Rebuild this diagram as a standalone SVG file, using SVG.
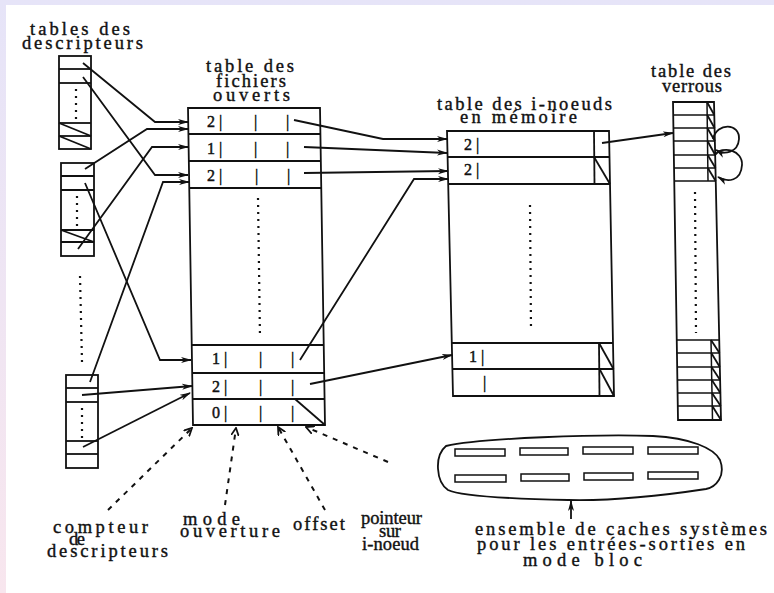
<svg xmlns="http://www.w3.org/2000/svg" width="774" height="593" viewBox="0 0 774 593">
<defs>
<linearGradient id="bg" x1="0" y1="0" x2="0" y2="1">
<stop offset="0" stop-color="#e6e4f8"/>
<stop offset="1" stop-color="#f8e6ee"/>
</linearGradient>
<marker id="ah" markerWidth="11" markerHeight="8" refX="10" refY="4" orient="auto" markerUnits="userSpaceOnUse">
<path d="M0,1 L11,4 L0,7 L3,4 z" fill="#111"/>
</marker>
<marker id="ao" markerWidth="9" markerHeight="9" refX="8" refY="4.5" orient="auto" markerUnits="userSpaceOnUse">
<path d="M0,0.5 L8,4.5 L0,8.5" fill="none" stroke="#111" stroke-width="1.8"/>
</marker>
</defs>
<style>
.ln{stroke:#111;stroke-width:1.8;fill:none}
.thin{stroke:#111;stroke-width:1.5;fill:none}
.arr{stroke:#111;stroke-width:1.8;fill:none;marker-end:url(#ah)}
.dash{stroke:#111;stroke-width:2;fill:none;stroke-dasharray:5 6;marker-end:url(#ao)}
.dots{stroke:#111;stroke-width:2.2;fill:none;stroke-dasharray:2 5}
.lbl{font-family:"Liberation Serif","DejaVu Serif",serif;font-size:18.5px;fill:#111;stroke:#111;stroke-width:0.4}
.num{font-family:"Liberation Serif","DejaVu Serif",serif;font-size:16px;fill:#111;stroke:#111;stroke-width:0.45}
</style>
<rect x="0" y="0" width="774" height="593" fill="url(#bg)"/>
<rect x="6" y="5" width="768" height="588" fill="#ffffff"/>

<g id="title-descripteurs">
<text class="lbl" x="30" y="35" textLength="100" lengthAdjust="spacing">tables des</text>
<text class="lbl" x="22" y="49" textLength="121" lengthAdjust="spacing">descripteurs</text>
</g>

<g id="desc-table-1">
<rect class="ln" x="59" y="56" width="32" height="93"/>
<line class="ln" x1="59" y1="69" x2="91" y2="69"/>
<line class="ln" x1="59" y1="83" x2="91" y2="83"/>
<line class="ln" x1="59" y1="123" x2="91" y2="123"/>
<line class="ln" x1="59" y1="136" x2="91" y2="136"/>
<line class="ln" x1="59" y1="123" x2="91" y2="136"/>
<line class="ln" x1="59" y1="136" x2="91" y2="149"/>
<line class="dots" x1="76" y1="89" x2="76" y2="121"/>
</g>

<g id="desc-table-2">
<rect class="ln" x="61" y="163" width="33" height="93"/>
<line class="ln" x1="61" y1="176" x2="94" y2="176"/>
<line class="ln" x1="61" y1="190" x2="94" y2="190"/>
<line class="ln" x1="61" y1="230" x2="94" y2="230"/>
<line class="ln" x1="61" y1="242" x2="94" y2="242"/>
<line class="ln" x1="61" y1="230" x2="94" y2="242"/>
<line class="dots" x1="77" y1="196" x2="77" y2="228"/>
</g>

<line class="dots" x1="80" y1="276" x2="82" y2="362"/>

<g id="desc-table-3">
<rect class="ln" x="66" y="375" width="32" height="93"/>
<line class="ln" x1="66" y1="388" x2="98" y2="388"/>
<line class="ln" x1="66" y1="402" x2="98" y2="402"/>
<line class="ln" x1="66" y1="441" x2="98" y2="441"/>
<line class="ln" x1="66" y1="454" x2="98" y2="454"/>
<line class="dots" x1="82" y1="408" x2="82" y2="438"/>
</g>

<g id="title-fichiers">
<text class="lbl" x="206" y="72" textLength="88" lengthAdjust="spacing">table des</text>
<text class="lbl" x="216" y="87" textLength="70" lengthAdjust="spacing">fichiers</text>
<text class="lbl" x="213" y="101" textLength="77" lengthAdjust="spacing">ouverts</text>
</g>

<g id="file-table">
<path class="ln" d="M188,108 L320,108 L325,425 L193,425 Z"/>
<line class="ln" x1="188.4" y1="134" x2="320.4" y2="134"/>
<line class="ln" x1="188.8" y1="161" x2="320.8" y2="161"/>
<line class="ln" x1="189.3" y1="188" x2="321.3" y2="188"/>
<line class="ln" x1="191.7" y1="345" x2="323.7" y2="345"/>
<line class="ln" x1="192.2" y1="373" x2="324.2" y2="373"/>
<line class="ln" x1="192.6" y1="399" x2="324.6" y2="399"/>
<line class="ln" x1="295" y1="399" x2="325" y2="425"/>
<line class="dots" x1="258" y1="198" x2="260" y2="338"/>
<text class="num" x="207" y="127">2 |</text><text class="num" x="254" y="127">|</text><text class="num" x="286" y="127">|</text>
<text class="num" x="207" y="154">1 |</text><text class="num" x="254" y="154">|</text><text class="num" x="286" y="154">|</text>
<text class="num" x="207" y="181">2 |</text><text class="num" x="255" y="181">|</text><text class="num" x="287" y="181">|</text>
<text class="num" x="212" y="364">1 |</text><text class="num" x="259" y="364">|</text><text class="num" x="291" y="364">|</text>
<text class="num" x="212" y="392">2 |</text><text class="num" x="259" y="392">|</text><text class="num" x="291" y="392">|</text>
<text class="num" x="212" y="418">0 |</text><text class="num" x="259" y="418">|</text><text class="num" x="291" y="418">|</text>
</g>

<g id="title-inoeuds">
<text class="lbl" x="437" y="110" textLength="175" lengthAdjust="spacing">table des i-noeuds</text>
<text class="lbl" x="460" y="123" textLength="117" lengthAdjust="spacing">en mémoire</text>
</g>

<g id="inode-table">
<path class="ln" d="M447,131 L609,131 L614,396 L453,396 Z"/>
<line class="ln" x1="447.5" y1="157" x2="609.5" y2="157"/>
<line class="ln" x1="448" y1="184" x2="610" y2="184"/>
<line class="ln" x1="594" y1="131" x2="594.5" y2="184"/>
<line class="ln" x1="594" y1="157" x2="610" y2="184"/>
<line class="ln" x1="452" y1="343" x2="613" y2="343"/>
<line class="ln" x1="452.5" y1="369" x2="613.5" y2="369"/>
<line class="ln" x1="599" y1="343" x2="599.5" y2="396"/>
<line class="ln" x1="599" y1="343" x2="613.5" y2="369"/>
<line class="ln" x1="599.5" y1="369" x2="614" y2="396"/>
<line class="dots" x1="530" y1="205" x2="531" y2="330"/>
<text class="num" x="464" y="150">2 |</text>
<text class="num" x="464" y="175">2 |</text>
<text class="num" x="469" y="362">1 |</text>
<text class="num" x="483" y="388">|</text>
</g>

<g id="title-verrous">
<text class="lbl" x="651" y="77" textLength="80" lengthAdjust="spacing">table des</text>
<text class="lbl" x="662" y="92" textLength="60" lengthAdjust="spacing">verrous</text>
</g>

<g id="locks-table">
<path class="ln" d="M673,102 L714,102 L721,420 L678,420 Z"/>
<line class="thin" x1="673.2" y1="115" x2="714.3" y2="115"/>
<line class="thin" x1="673.4" y1="128" x2="714.6" y2="128"/>
<line class="thin" x1="673.6" y1="141" x2="714.9" y2="141"/>
<line class="thin" x1="673.8" y1="155" x2="715.2" y2="155"/>
<line class="thin" x1="674" y1="168" x2="715.5" y2="168"/>
<line class="thin" x1="674.2" y1="181" x2="715.7" y2="181"/>
<line class="thin" x1="707" y1="102" x2="708" y2="181"/>
<line class="ln" x1="707" y1="102" x2="714.3" y2="115"/>
<line class="ln" x1="707.2" y1="115" x2="714.6" y2="128"/>
<line class="ln" x1="707.3" y1="128" x2="714.9" y2="141"/>
<line class="ln" x1="707.5" y1="141" x2="715.2" y2="155"/>
<line class="ln" x1="707.7" y1="155" x2="715.5" y2="168"/>
<line class="ln" x1="707.8" y1="168" x2="715.7" y2="181"/>
<line class="dots" x1="695" y1="192" x2="696" y2="333"/>
<line class="thin" x1="676.7" y1="340" x2="719.2" y2="340"/>
<line class="thin" x1="676.9" y1="353" x2="719.5" y2="353"/>
<line class="thin" x1="677.1" y1="367" x2="719.8" y2="367"/>
<line class="thin" x1="677.3" y1="380" x2="720.1" y2="380"/>
<line class="thin" x1="677.5" y1="393" x2="720.4" y2="393"/>
<line class="thin" x1="677.8" y1="406" x2="720.7" y2="406"/>
<line class="thin" x1="711" y1="340" x2="712.5" y2="420"/>
<line class="ln" x1="711" y1="340" x2="719.5" y2="353"/>
<line class="ln" x1="711.3" y1="353" x2="719.8" y2="367"/>
<line class="ln" x1="711.5" y1="367" x2="720.1" y2="380"/>
<line class="ln" x1="711.8" y1="380" x2="720.4" y2="393"/>
<line class="ln" x1="712" y1="393" x2="720.7" y2="406"/>
<line class="ln" x1="712.3" y1="406" x2="721" y2="420"/>
</g>

<g id="cache-pool">
<path class="ln" d="M446,446 C480,438 600,434 653,436 C690,438 714,448 720,460 C726,476 716,487 706,489 C660,496 610,501 568,500 C520,499 462,497 448,490 C436,482 434,456 446,446 Z"/>
<rect class="thin" x="455" y="449" width="50" height="7"/>
<rect class="thin" x="520" y="448" width="48" height="7"/>
<rect class="thin" x="583" y="447" width="50" height="7"/>
<rect class="thin" x="648" y="447" width="50" height="7"/>
<rect class="thin" x="455" y="475" width="51" height="7"/>
<rect class="thin" x="521" y="474" width="48" height="7"/>
<rect class="thin" x="584" y="473" width="49" height="7"/>
<rect class="thin" x="648" y="472" width="50" height="7"/>
</g>

<g id="labels-bottom">
<text class="lbl" x="53" y="533" textLength="95" lengthAdjust="spacing">compteur</text>
<text class="lbl" x="69" y="545" textLength="16" lengthAdjust="spacing">de</text>
<text class="lbl" x="47" y="557" textLength="121" lengthAdjust="spacing">descripteurs</text>
<text class="lbl" x="183" y="525" textLength="57" lengthAdjust="spacing">mode</text>
<text class="lbl" x="180" y="537" textLength="100" lengthAdjust="spacing">ouverture</text>
<text class="lbl" x="293" y="530" textLength="52" lengthAdjust="spacing">offset</text>
<text class="lbl" x="361" y="524" textLength="61" lengthAdjust="spacing">pointeur</text>
<text class="lbl" x="379" y="537" textLength="22" lengthAdjust="spacing">sur</text>
<text class="lbl" x="362" y="550" textLength="57" lengthAdjust="spacing">i-noeud</text>
<text class="lbl" x="475" y="535" textLength="292" lengthAdjust="spacing">ensemble de caches systèmes</text>
<text class="lbl" x="477" y="550" textLength="268" lengthAdjust="spacing">pour les entrées-sorties en</text>
<text class="lbl" x="523" y="566" textLength="119" lengthAdjust="spacing">mode bloc</text>
</g>

<g id="connectors">
<polyline class="arr" points="83,63 155,122 188,122"/>
<polyline class="arr" points="83,77 155,175 188,175"/>
<polyline class="arr" points="85,169 147,129 188,129"/>
<polyline class="arr" points="85,183 160,360 191,360"/>
<polyline class="arr" points="78,249 152,147 188,147"/>
<polyline class="arr" points="90,382 163,182 189,182"/>
<line class="arr" x1="82" y1="395" x2="192" y2="386"/>
<line class="arr" x1="83" y1="447" x2="190" y2="393"/>
<polyline class="arr" points="294,120 383,139 447,139"/>
<line class="arr" x1="304" y1="147" x2="447" y2="153"/>
<line class="arr" x1="304" y1="173" x2="448" y2="171"/>
<polyline class="arr" points="300,360 414,179 448,179"/>
<line class="arr" x1="310" y1="384" x2="452" y2="355"/>
<line class="arr" x1="602" y1="143" x2="673" y2="133"/>
<path class="arr" d="M713,139 C717,122 740,123 739,139 C738,153 724,155 716,150"/>
<path class="arr" d="M715,155 C722,145 743,150 742,165 C741,181 728,183 718,177"/>
<line class="arr" x1="571" y1="519" x2="571" y2="501"/>
<line class="dash" x1="108" y1="510" x2="192" y2="428"/>
<line class="dash" x1="225" y1="505" x2="236" y2="428"/>
<line class="dash" x1="325" y1="510" x2="278" y2="427"/>
<line class="dash" x1="388" y1="462" x2="306" y2="427"/>
</g>
</svg>
